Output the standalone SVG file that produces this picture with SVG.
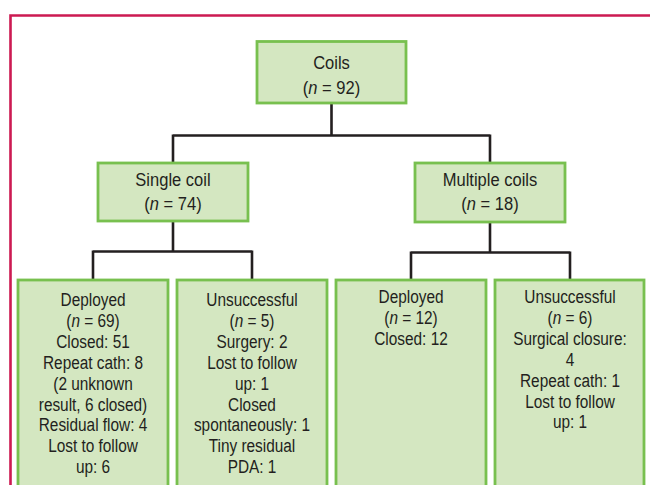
<svg xmlns="http://www.w3.org/2000/svg" width="650" height="485" viewBox="0 0 650 485">
<style>
.box{fill:#d4e7c1;stroke:#78c04f;stroke-width:2.8}
.t{font-family:"Liberation Sans Narrow","Liberation Sans",Arial,sans-serif;font-size:19px;fill:#231f20;text-anchor:middle}
.i{font-style:italic}
.con{fill:none;stroke:#231f20;stroke-width:2.6}
</style>
<rect width="650" height="485" fill="#ffffff"/>
<path d="M10.5 485 V15.5 H650" fill="none" stroke="#cc1a52" stroke-width="2.6"/>
<g id="connectors">
<path class="con" d="M331.5 103 V135.5 M173 135.5 H490 M173 134.5 V163 M490 134.5 V163"/>
<path class="con" d="M173 221 V251.5 M93 251.5 H252 M93 250.5 V280 M252 250.5 V280"/>
<path class="con" d="M490 222 V252.5 M411 252.5 H570 M411 251.5 V280 M570 251.5 V280"/>
</g>
<g id="coils">
<rect class="box" x="257" y="41.5" width="149" height="61.5"/>
<g transform="translate(331.5 0) scale(0.87 1)">
<text class="t" x="0" y="69">Coils</text>
<text class="t" x="0" y="94">(<tspan class="i">n</tspan> = 92)</text>
</g>
</g>
<g id="single">
<rect class="box" x="98" y="163" width="150" height="58"/>
<g transform="translate(173 0) scale(0.87 1)">
<text class="t" x="0" y="186">Single coil</text>
<text class="t" x="0" y="210">(<tspan class="i">n</tspan> = 74)</text>
</g>
</g>
<g id="multiple">
<rect class="box" x="415" y="163" width="150" height="59"/>
<g transform="translate(490 0) scale(0.87 1)">
<text class="t" x="0" y="186">Multiple coils</text>
<text class="t" x="0" y="210">(<tspan class="i">n</tspan> = 18)</text>
</g>
</g>
<g id="single-deployed">
<rect class="box" x="18" y="280" width="150" height="210"/>
<g transform="translate(93 0) scale(0.81 1)">
<text class="t" x="0" y="306">Deployed</text>
<text class="t" x="0" y="327">(<tspan class="i">n</tspan> = 69)</text>
<text class="t" x="0" y="348">Closed: 51</text>
<text class="t" x="0" y="369">Repeat cath: 8</text>
<text class="t" x="0" y="390">(2 unknown</text>
<text class="t" x="0" y="411">result, 6 closed)</text>
<text class="t" x="0" y="431">Residual flow: 4</text>
<text class="t" x="0" y="452">Lost to follow</text>
<text class="t" x="0" y="473">up: 6</text>
</g>
</g>
<g id="single-unsuccessful">
<rect class="box" x="177" y="280" width="150" height="210"/>
<g transform="translate(252 0) scale(0.81 1)">
<text class="t" x="0" y="306">Unsuccessful</text>
<text class="t" x="0" y="327">(<tspan class="i">n</tspan> = 5)</text>
<text class="t" x="0" y="348">Surgery: 2</text>
<text class="t" x="0" y="369">Lost to follow</text>
<text class="t" x="0" y="390">up: 1</text>
<text class="t" x="0" y="411">Closed</text>
<text class="t" x="0" y="431">spontaneously: 1</text>
<text class="t" x="0" y="452">Tiny residual</text>
<text class="t" x="0" y="473">PDA: 1</text>
</g>
</g>
<g id="multiple-deployed">
<rect class="box" x="336" y="280" width="150" height="210"/>
<g transform="translate(411 0) scale(0.81 1)">
<text class="t" x="0" y="303">Deployed</text>
<text class="t" x="0" y="324">(<tspan class="i">n</tspan> = 12)</text>
<text class="t" x="0" y="345">Closed: 12</text>
</g>
</g>
<g id="multiple-unsuccessful">
<rect class="box" x="495" y="280" width="149" height="210"/>
<g transform="translate(570 0) scale(0.81 1)">
<text class="t" x="0" y="303">Unsuccessful</text>
<text class="t" x="0" y="324">(<tspan class="i">n</tspan> = 6)</text>
<text class="t" x="0" y="345">Surgical closure:</text>
<text class="t" x="0" y="366">4</text>
<text class="t" x="0" y="387">Repeat cath: 1</text>
<text class="t" x="0" y="408">Lost to follow</text>
<text class="t" x="0" y="428">up: 1</text>
</g>
</g>
</svg>
